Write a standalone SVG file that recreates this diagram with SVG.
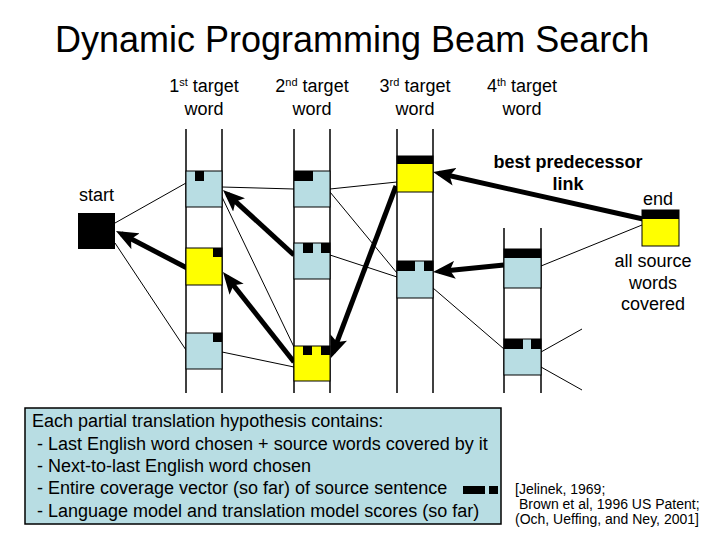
<svg xmlns="http://www.w3.org/2000/svg" width="720" height="540" viewBox="0 0 720 540">
<style>
text{font-family:"Liberation Sans",Arial,sans-serif;fill:#000}
.t{font-size:36px}
.h{font-size:18px;text-anchor:middle}
.b{font-weight:bold}
.sup{font-size:11px}
.col{stroke:#000;stroke-width:1.5}
.blue{fill:#B8DDE3;stroke:#000;stroke-width:1}
.yel{fill:#FFFF00;stroke:#000;stroke-width:1}
.blk{fill:#000}
.thin{stroke:#000;stroke-width:1;fill:none}
.thick{stroke:#000;stroke-width:5;fill:none;marker-end:url(#ah)}
.ref{font-size:14px}
</style>
<defs>
<marker id="ah" markerUnits="userSpaceOnUse" markerWidth="22" markerHeight="18" viewBox="0 0 22 18" refX="16" refY="9" orient="auto">
<path d="M0,0 L22,9 L0,18 L5,9 z" fill="#000"/>
</marker>
</defs>
<rect width="720" height="540" fill="#fff"/>
<text class="t" x="55" y="52">Dynamic Programming Beam Search</text>
<g id="headers">
<text class="h" x="204" y="92">1<tspan class="sup" dy="-6">st</tspan><tspan dy="6"> target</tspan></text>
<text class="h" x="204" y="115">word</text>
<text class="h" x="312" y="92">2<tspan class="sup" dy="-6">nd</tspan><tspan dy="6"> target</tspan></text>
<text class="h" x="312" y="115">word</text>
<text class="h" x="415" y="92">3<tspan class="sup" dy="-6">rd</tspan><tspan dy="6"> target</tspan></text>
<text class="h" x="415" y="115">word</text>
<text class="h" x="522" y="92">4<tspan class="sup" dy="-6">th</tspan><tspan dy="6"> target</tspan></text>
<text class="h" x="522" y="115">word</text>
</g>
<g id="columns">
<line class="col" x1="186" y1="129" x2="186" y2="393"/><line class="col" x1="222" y1="129" x2="222" y2="393"/>
<line class="col" x1="294" y1="129" x2="294" y2="393"/><line class="col" x1="330" y1="129" x2="330" y2="393"/>
<line class="col" x1="397" y1="129" x2="397" y2="393"/><line class="col" x1="433" y1="129" x2="433" y2="393"/>
<line class="col" x1="504" y1="228" x2="504" y2="393"/><line class="col" x1="541" y1="228" x2="541" y2="393"/>
</g>
<g id="connectors">
<line class="thin" x1="115" y1="223" x2="186" y2="183"/>
<line class="thin" x1="115" y1="243" x2="186" y2="350"/>
<line class="thin" x1="222" y1="187" x2="294" y2="189"/>
<line class="thin" x1="222" y1="197" x2="294" y2="347"/>
<line class="thin" x1="222" y1="352" x2="294" y2="367"/>
<line class="thin" x1="330" y1="189" x2="397" y2="182"/>
<line class="thin" x1="330" y1="192" x2="397" y2="273"/>
<line class="thin" x1="330" y1="255" x2="397" y2="277"/>
<line class="thin" x1="433" y1="288" x2="504" y2="349"/>
<line class="thin" x1="541" y1="266" x2="642" y2="225"/>
<line class="thin" x1="541" y1="352" x2="582" y2="329"/>
<line class="thin" x1="541" y1="367" x2="582" y2="390"/>
<line class="thick" x1="187" y1="268" x2="121.3" y2="233.8"/>
<line class="thick" x1="294" y1="255" x2="227.4" y2="194.1"/>
<line class="thick" x1="294" y1="362" x2="226.7" y2="276.7"/>
<line class="thick" x1="396" y1="186" x2="333.1" y2="352.4"/>
<line class="thick" x1="504" y1="265" x2="439" y2="271.4"/>
<line class="thick" x1="643" y1="219" x2="438.9" y2="173.3"/>
</g>
<g id="start">
<text class="h" x="96.5" y="201">start</text>
<rect class="blk" x="78" y="213" width="37" height="36"/>
</g>
<g id="c1a"><rect class="blue" x="186" y="171" width="36" height="36"/><rect class="blk" x="195" y="171" width="9" height="10"/></g>
<g id="c1b"><rect class="yel" x="186" y="248" width="36" height="37"/><rect class="blk" x="213" y="248" width="9" height="9"/></g>
<g id="c1c"><rect class="blue" x="186" y="333" width="36" height="36"/><rect class="blk" x="213" y="333" width="9" height="9"/></g>
<g id="c2a"><rect class="blue" x="294" y="171" width="36" height="36"/><rect class="blk" x="294" y="171" width="19" height="10"/></g>
<g id="c2b"><rect class="blue" x="294" y="243" width="36" height="36"/><rect class="blk" x="303" y="243" width="10" height="10"/><rect class="blk" x="321" y="243" width="9" height="10"/></g>
<g id="c2c"><rect class="yel" x="294" y="346" width="36" height="35"/><rect class="blk" x="303" y="346" width="9" height="9"/><rect class="blk" x="321" y="346" width="9" height="9"/></g>
<g id="c3a"><rect class="yel" x="397" y="156" width="36" height="36"/><rect class="blk" x="397" y="156" width="36" height="8"/></g>
<g id="c3b"><rect class="blue" x="397" y="261" width="36" height="37"/><rect class="blk" x="397" y="261" width="18" height="10"/><rect class="blk" x="424" y="261" width="9" height="10"/></g>
<g id="c4a"><rect class="blue" x="504" y="249" width="37" height="39"/><rect class="blk" x="504" y="249" width="37" height="9"/></g>
<g id="c4b"><rect class="blue" x="504" y="339" width="37" height="36"/><rect class="blk" x="504" y="339" width="19" height="10"/><rect class="blk" x="531" y="339" width="10" height="10"/></g>
<g id="end">
<rect class="yel" x="642" y="210" width="37" height="36"/><rect class="blk" x="642" y="210" width="37" height="9"/>
<text class="h" x="658" y="205">end</text>
<text class="h" x="653" y="267">all source</text>
<text class="h" x="653" y="289">words</text>
<text class="h" x="653" y="310">covered</text>
</g>
<g id="link-label">
<text class="h b" x="568" y="168">best predecessor</text>
<text class="h b" x="568" y="190">link</text>
</g>
<g id="legend">
<rect x="25" y="408" width="476" height="116" fill="#B8DDE3" stroke="#000" stroke-width="1.5"/>
<text font-size="18" x="32" y="427">Each partial translation hypothesis contains:</text>
<text font-size="18" x="37" y="450">- Last English word chosen + source words covered by it</text>
<text font-size="18" x="37" y="472">- Next-to-last English word chosen</text>
<text font-size="18" x="37" y="494">- Entire coverage vector (so far) of source sentence</text>
<text font-size="18" x="37" y="517">- Language model and translation model scores (so far)</text>
<rect class="blk" x="463" y="486" width="22" height="8"/>
<rect class="blk" x="489" y="486" width="9" height="8"/>
</g>
<g id="refs">
<text class="ref" x="515" y="494">[Jelinek, 1969;</text>
<text class="ref" x="519" y="509">Brown et al, 1996 US Patent;</text>
<text class="ref" x="515" y="524">(Och, Ueffing, and Ney, 2001]</text>
</g>
</svg>
